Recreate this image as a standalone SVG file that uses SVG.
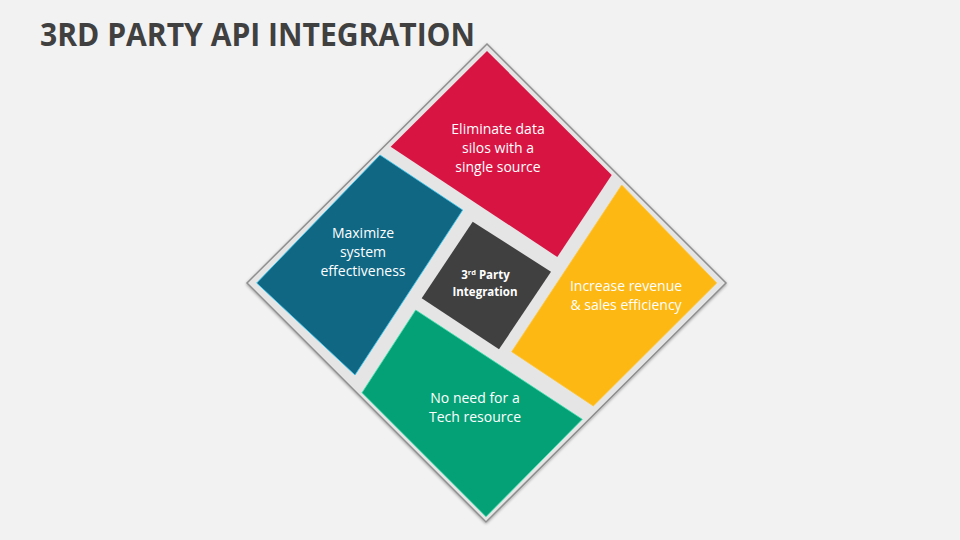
<svg xmlns="http://www.w3.org/2000/svg" width="960" height="540" viewBox="0 0 960 540">
  <defs>
    <filter id="sh" x="-10%" y="-10%" width="120%" height="120%">
      <feGaussianBlur in="SourceAlpha" stdDeviation="1.5"/>
      <feOffset dx="0" dy="1" result="b"/>
      <feComponentTransfer><feFuncA type="linear" slope="0.35"/></feComponentTransfer>
      <feMerge><feMergeNode/><feMergeNode in="SourceGraphic"/></feMerge>
    </filter>
  </defs>
  <style>
    .t { font-family: "Open Sans", "Liberation Sans", sans-serif; font-size: 14px; fill: #ffffff; text-anchor: middle; }
    .c { font-family: "Open Sans", "Liberation Sans", sans-serif; font-size: 11.5px; font-weight: bold; fill: #ffffff; text-anchor: middle; }
    .title { font-family: "Open Sans", "Liberation Sans", sans-serif; font-size: 32px; font-weight: bold; fill: #404040; }
  </style>
  <rect width="960" height="540" fill="#f2f2f2"/>
  <text class="title" x="40" y="45.5" textLength="435" lengthAdjust="spacingAndGlyphs">3RD PARTY API INTEGRATION</text>

  <g id="frame">
    <polygon points="487,44 726,283 486,522 247,283" fill="#e5e5e5" stroke="#8f8f8f" stroke-width="1.5" filter="url(#sh)"/>
  </g>

  <g id="node-red">
    <polygon points="487,51 611.7,175 557.3,257 390.7,146.7" fill="#d81443"/>
    <text class="t" x="498" y="134">Eliminate data</text>
    <text class="t" x="498" y="153">silos with a</text>
    <text class="t" x="498" y="172">single source</text>
  </g>

  <g id="node-yellow">
    <polygon points="621.7,185 716.7,283 593.3,406 511.7,351.7" fill="#fdb813" stroke="#ffc83a" stroke-width="0.8"/>
    <text class="t" x="626" y="291">Increase revenue</text>
    <text class="t" x="626" y="310">&amp; sales efficiency</text>
  </g>

  <g id="node-green">
    <polygon points="415.7,310 582.3,419.3 486,516.7 362,392.7" fill="#05a176" stroke="#3fe3b0" stroke-width="0.8"/>
    <text class="t" x="475" y="403">No need for a</text>
    <text class="t" x="475" y="422">Tech resource</text>
  </g>

  <g id="node-blue">
    <polygon points="380,155 462.7,210 355,375 256.7,283" fill="#0f6784" stroke="#35c8f0" stroke-width="0.8"/>
    <text class="t" x="363" y="238">Maximize</text>
    <text class="t" x="363" y="257">system</text>
    <text class="t" x="363" y="276">effectiveness</text>
  </g>

  <g id="node-center">
    <polygon points="472.7,221.7 551,271.7 499,349.3 421.7,298.3" fill="#404040"/>
    <text class="c" x="485.5" y="279">3<tspan font-size="7.5" dy="-4">rd</tspan><tspan dy="4"> Party</tspan></text>
    <text class="c" x="485" y="295.5">Integration</text>
  </g>

  <g id="connectors"/>
</svg>
